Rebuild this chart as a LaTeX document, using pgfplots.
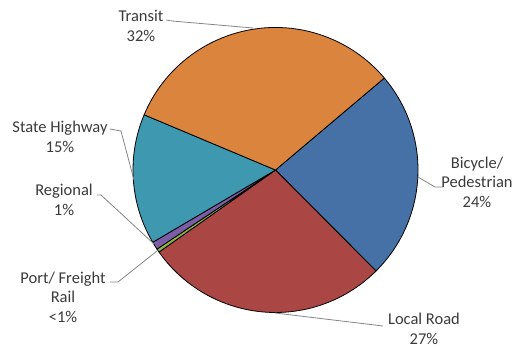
\documentclass[border=0pt]{standalone}
\usepackage{pgfplots}
\pgfplotsset{compat=1.18}
\usepackage{fontspec}
\setmainfont{Carlito}
\definecolor{cBike}{HTML}{4571A7}
\definecolor{cLocal}{HTML}{AA4643}
\definecolor{cPort}{HTML}{8DB53F}
\definecolor{cReg}{HTML}{7B5CA6}
\definecolor{cState}{HTML}{3E98B0}
\definecolor{cTransit}{HTML}{DB843D}
\definecolor{txt}{HTML}{3A3A3A}
\definecolor{lead}{HTML}{858585}
% shares (percent), clockwise from the Transit/Bicycle boundary
\def\vBike{23.7}\def\vLocal{27.7}\def\vPort{0.4}\def\vReg{0.9}\def\vState{14.8}\def\vTransit{32.5}
\pgfmathsetmacro\aA{40.2}
\pgfmathsetmacro\aB{\aA-\vBike*3.6}
\pgfmathsetmacro\aC{\aB-\vLocal*3.6}
\pgfmathsetmacro\aD{\aC-\vPort*3.6}
\pgfmathsetmacro\aE{\aD-\vReg*3.6}
\pgfmathsetmacro\aF{\aE-\vState*3.6}
\pgfmathsetmacro\aG{\aF-\vTransit*3.6}
\newcommand\slice[3]{\filldraw[fill=#3, draw=black, line width=0.8pt, line join=round]
  (axis cs:0,0) -- (axis cs:{cos(#1)},{sin(#1)}) arc[start angle=#1, end angle=#2, radius=142.5pt] -- cycle;}
\newcommand\px[2]{axis cs:{(#1-275.5)/142.5},{(170-#2)/142.5}}
\tikzset{lab/.style={font=\fontsize{16.5}{19.5}\selectfont, text=txt, align=center, inner sep=0pt}}
\begin{document}
\begin{tikzpicture}
\begin{axis}[
  x=142.5pt, y=142.5pt,
  xmin=-1.9333, xmax=1.6737, ymin=-1.2561, ymax=1.1930,
  hide axis, clip=false,
]
\coordinate (bl) at (axis cs:-1.9333,-1.2561);
\coordinate (tr) at (axis cs:1.6737,1.1930);
\slice{\aA}{\aB}{cBike}
\slice{\aB}{\aC}{cLocal}
\slice{\aC}{\aD}{cPort}
\slice{\aD}{\aE}{cReg}
\slice{\aE}{\aF}{cState}
\slice{\aF}{\aG}{cTransit}
% leader lines
\draw[lead, line width=0.8pt] (\px{166}{20}) -- (\px{172}{21}) -- (\px{253}{28});
\draw[lead, line width=0.8pt] (\px{110}{129}) -- (\px{121}{131}) -- (\px{134}{180});
\draw[lead, line width=0.8pt] (\px{97}{195}) -- (\px{101}{195}) -- (\px{154}{244});
\draw[lead, line width=0.8pt] (\px{110}{282}) -- (\px{118}{282}) -- (\px{157}{251});
\draw[lead, line width=0.8pt] (\px{418}{177}) -- (\px{435}{187}) -- (\px{443}{187});
\draw[lead, line width=0.8pt] (\px{275}{313}) -- (\px{383}{326});
% labels
\node[lab] at (\px{141}{26}) {Transit\\32\%};
\node[lab] at (\px{60}{137}) {State Highway\\15\%};
\node[lab] at (\px{64}{200}) {Regional\\1\%};
\node[lab] at (\px{63}{297}) {Port/ Freight\\Rail\\<1\%};
\node[lab] at (\px{477}{182}) {Bicycle/\\Pedestrian\\24\%};
\node[lab] at (\px{424}{329}) {Local Road\\27\%};
\end{axis}
\pgfresetboundingbox
\useasboundingbox (bl) rectangle (tr);
\end{tikzpicture}
\end{document}
